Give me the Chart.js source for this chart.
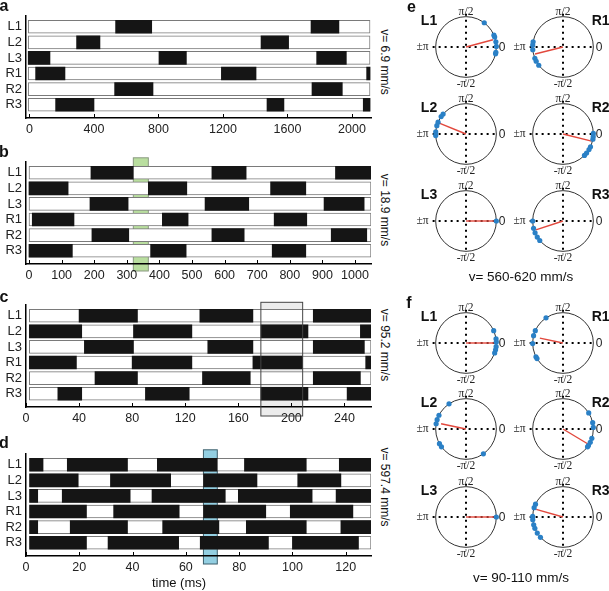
<!DOCTYPE html>
<html>
<head>
<meta charset="utf-8">
<script src="https://cdn.jsdelivr.net/npm/chart.js@4.4.1/dist/chart.umd.min.js"></script>
<style>
  html, body { margin: 0; padding: 0; background: #fff; }
  #fig { position: relative; width: 609px; height: 591px; overflow: hidden;
         font-family: "Liberation Sans", Arial, sans-serif; color: #111; }
  #fig canvas { position: absolute; }
  .txt { position: absolute; white-space: nowrap; line-height: 1; transform: translate(-50%, -50%); }
  .panel { font-weight: bold; font-size: 16px; }
  .vrot { font-size: 12px; transform: translate(-50%, -50%) rotate(90deg); }
  .leg { font-weight: bold; font-size: 14px; }
  .vel { font-size: 13.5px; }
  .xtitle { font-size: 13px; }
</style>
</head>
<body>
<div id="fig"></div>
<script>
// ---- gait diagrams (stance phases in black, time in ms) ----
const legs = ['L1', 'L2', 'L3', 'R1', 'R2', 'R3'];

// a: v = 6.9 mm/s
const aTicks = [0, 400, 800, 1200, 1600, 2000];
const aSpan = [-8, 2112];
const aStance = [
    [[534, 758], [1746, 1919]],
    [[292, 437], [1436, 1607]],
    [[-8, 127], [803, 973], [1781, 1965]],
    [[38, 220], [1190, 1405], [2091, 2112]],
    [[528, 766], [1752, 1940]],
    [[162, 400], [1473, 1578], [2070, 2112]]
];

// b: v = 18.9 mm/s
const bTicks = [0, 100, 200, 300, 400, 500, 600, 700, 800, 900, 1000];
const bSpan = [0, 1049];
const bStance = [
    [[190, 320], [561, 666], [940, 1049]],
    [[0, 120], [366, 484], [741, 849]],
    [[187, 304], [540, 674], [905, 1028]],
    [[10, 138], [409, 488], [752, 852]],
    [[193, 306], [561, 660], [927, 1036]],
    [[0, 133], [373, 482], [746, 849]]
];
const bWindow = [320, 366];

// c: v = 95.2 mm/s
const cTicks = [0, 40, 80, 120, 160, 200, 240];
const cSpan = [2.5, 260];
const cStance = [
    [[40, 84], [131, 171], [216.5, 260]],
    [[2.5, 42], [81, 125], [177, 212.5], [252, 260]],
    [[44, 81], [137, 171], [216.5, 255]],
    [[2.5, 38], [80, 125], [171, 208.5], [256, 260]],
    [[52, 84], [133, 169], [216.5, 252]],
    [[24, 42], [90, 123], [177, 212.5], [242, 260]]
];
const cWindow = [177, 208.5];

// d: v = 597.4 mm/s
const dTicks = [0, 20, 40, 60, 80, 100, 120];
const dSpan = [1.35, 129.5];
const dStance = [
    [[1.35, 6.4], [15.5, 38.1], [49.3, 71.8], [82, 105.2], [117.6, 129.5]],
    [[1.35, 19.6], [31.7, 54.3], [66.6, 86.7], [102, 118.2]],
    [[1.35, 4.4], [13.6, 39.1], [47.3, 74.8], [79.7, 107.4], [116.4, 129.5]],
    [[1.35, 22.7], [32.9, 57.5], [66.6, 90], [99.2, 122.7]],
    [[1.35, 4.4], [16.6, 38.1], [51.3, 72.4], [82.7, 105.2], [118.2, 129.5]],
    [[1.35, 22.7], [30.8, 57.3], [65.4, 91], [100, 124.8]]
];
const dWindow = [66.6, 71.8];

// ---- phase plots (degrees, L1 as reference) ----
// e: v = 560-620 mm/s
const eL1 = [53, 23, 19, 10, 1, -10, -13];
const eR1 = [170, 176, 185, 202, 208, 217];
const eL2 = [139, 145, 157, 164, 176, 183];
const eR2 = [1, -5, -10, -25, -31, -39, -45];
const eL3 = [0];
const eR3 = [180, 194, 203, 212, 220];
// mean vectors [angle, length], order L1 R1 L2 R2 L3 R3
const eMean = [[15, 0.92], [194, 0.95], [158, 0.95], [-14, 0.97], [0, 1], [198, 0.94]];

// f: v = 90-110 mm/s
const fL1 = [24, 8, 2, -7, -13, -19];
const fR1 = [124, 156, 166, 181, 207, 211];
const fL2 = [124, 153, 162, 170, 209, 216, 305];
const fR2 = [32, 12, 3, -18, -26, -33, -36];
const fL3 = [0];
const fR3 = [155, 162, 179, 185, 195, 202, 212, 222];
const fMean = [[0, 0.93], [168, 0.78], [168, 0.84], [-31, 0.96], [0, 1], [164, 0.92]];

const fig = document.getElementById('fig');
const FONT = '"Liberation Sans", Arial, sans-serif';

function addCanvas(box) {
    const c = document.createElement('canvas');
    c.width = box.width;
    c.height = box.height;
    c.style.left = box.left + 'px';
    c.style.top = box.top + 'px';
    fig.appendChild(c);
    return c;
}

function addText(text, x, y, cls) {
    const d = document.createElement('div');
    d.className = 'txt ' + cls;
    d.textContent = text;
    d.style.left = x + 'px';
    d.style.top = y + 'px';
    fig.appendChild(d);
}

// shaded time window: fill behind everything, outline behind or over the bars
function windowRect(chart, opts) {
    const { chartArea, scales: { x } } = chart;
    const x0 = x.getPixelForValue(opts.range[0]);
    const x1 = x.getPixelForValue(opts.range[1]);
    return [x0, chartArea.top - opts.above, x1 - x0, chartArea.bottom - chartArea.top + opts.above + opts.below];
}

const windowPlugin = {
    id: 'timeWindow',
    beforeDraw(chart, args, opts) {
        if (!opts.range) return;
        const ctx = chart.ctx;
        const [x, y, w, h] = windowRect(chart, opts);
        ctx.save();
        ctx.fillStyle = opts.fill;
        ctx.fillRect(x, y, w, h);
        if (!opts.outlineOnTop) {
            ctx.strokeStyle = opts.stroke;
            ctx.lineWidth = 1;
            ctx.strokeRect(x, y, w, h);
        }
        ctx.restore();
    },
    afterDatasetsDraw(chart, args, opts) {
        if (!opts.range || !opts.outlineOnTop) return;
        const ctx = chart.ctx;
        const [x, y, w, h] = windowRect(chart, opts);
        ctx.save();
        ctx.strokeStyle = opts.stroke;
        ctx.lineWidth = 1;
        ctx.strokeRect(x, y, w, h);
        ctx.restore();
    }
};

// small inward tick marks on the time axis
const innerTicks = {
    id: 'innerTicks',
    afterDraw(chart) {
        const { ctx, chartArea, scales: { x } } = chart;
        ctx.save();
        ctx.strokeStyle = '#000';
        ctx.lineWidth = 1;
        x.ticks.forEach(t => {
            const px = Math.round(x.getPixelForValue(t.value)) + 0.5;
            ctx.beginPath();
            ctx.moveTo(px, chartArea.bottom);
            ctx.lineTo(px, chartArea.bottom - 4);
            ctx.stroke();
        });
        ctx.restore();
    }
};

function gaitChart(top, xMin, xMax, ticks, span, stance, win) {
    const canvas = addCanvas({ left: 0, top: top - 6, width: 378, height: 6 + 108.5 + 22 });
    new Chart(canvas, {
        type: 'bar',
        data: {
            datasets: [{
                data: stance.flatMap((segs, i) => segs.map(s => ({ y: i, x: s }))),
                backgroundColor: '#151515',
                borderWidth: 0
            }, {
                data: legs.map((l, i) => ({ y: i, x: span })),
                backgroundColor: '#fff',
                borderColor: '#7a7a7a',
                borderWidth: 1,
                borderSkipped: false
            }]
        },
        options: {
            responsive: false,
            animation: false,
            indexAxis: 'y',
            layout: { padding: { top: 6, right: 7, left: 0, bottom: 0 } },
            datasets: { bar: { grouped: false, barThickness: 13 } },
            plugins: {
                legend: { display: false },
                tooltip: { enabled: false },
                timeWindow: win || {}
            },
            scales: {
                x: {
                    type: 'linear', min: xMin, max: xMax,
                    afterBuildTicks: s => { s.ticks = ticks.map(v => ({ value: v })); },
                    afterFit: s => { s.height = 22; },
                    grid: { display: false, drawTicks: false },
                    border: { color: '#000', width: 1.5 },
                    ticks: {
                        callback: v => String(v),
                        color: '#222', font: { family: FONT, size: 12.5 }, padding: 4, maxRotation: 0, autoSkip: false
                    }
                },
                y: {
                    type: 'linear', reverse: true, offset: false, min: -0.7, max: 5.85,
                    afterBuildTicks: s => { s.ticks = legs.map((l, i) => ({ value: i })); },
                    afterFit: s => { s.width = 26; },
                    grid: { display: false, drawTicks: false },
                    border: { color: '#000', width: 1.5 },
                    ticks: { callback: v => legs[v], color: '#222', font: { family: FONT, size: 13 }, padding: 4, autoSkip: false }
                }
            }
        },
        plugins: [windowPlugin, innerTicks]
    });
}

// polar frame: circle, dotted axes and phase labels
const R = 60 / 32.5;
const phaseFrame = {
    id: 'phaseFrame',
    beforeDatasetsDraw(chart) {
        const { ctx, scales: { x, y } } = chart;
        const cx = x.getPixelForValue(0), cy = y.getPixelForValue(0);
        const r = x.getPixelForValue(1) - cx;
        ctx.save();
        ctx.strokeStyle = '#333';
        ctx.lineWidth = 1;
        ctx.beginPath();
        ctx.arc(cx, cy, r, 0, 2 * Math.PI);
        ctx.stroke();

        ctx.strokeStyle = '#000';
        ctx.lineWidth = 2;
        ctx.setLineDash([2, 4]);
        ctx.beginPath();
        ctx.moveTo(cx - r * 1.1, cy); ctx.lineTo(cx + r * 1.02, cy);
        ctx.moveTo(cx, cy - r * 1.1); ctx.lineTo(cx, cy + r * 1.1);
        ctx.stroke();
        ctx.setLineDash([]);

        ctx.fillStyle = '#222';
        ctx.textBaseline = 'middle';
        ctx.textAlign = 'center';
        ctx.font = '11.5px "Liberation Serif", "Times New Roman", serif';
        ctx.fillText('\u03c0/2', cx, cy - r - 5);
        ctx.fillText('-\u03c0/2', cx, cy + r + 6.5);
        ctx.textAlign = 'right';
        ctx.fillText('\u00b1\u03c0', cx - r - 7, cy);
        ctx.textAlign = 'left';
        ctx.font = '12px ' + FONT;
        ctx.fillText('0', cx + r + 2.5, cy + 0.5);
        ctx.restore();
    }
};

const toXY = (deg, len) => ({ x: len * Math.cos(deg * Math.PI / 180), y: len * Math.sin(deg * Math.PI / 180) });

function phaseChart(cx, cy, angles, mean) {
    const canvas = addCanvas({ left: cx - 60, top: cy - 60, width: 120, height: 120 });
    new Chart(canvas, {
        type: 'scatter',
        data: {
            datasets: [{
                data: angles.map(a => toXY(a, 1)),
                pointRadius: 2.6,
                pointBackgroundColor: '#2a80c6',
                pointBorderWidth: 0
            }, {
                data: [{ x: 0, y: 0 }, toXY(mean[0], mean[1])],
                showLine: true,
                borderColor: '#e2483d',
                borderWidth: 1.4,
                pointRadius: 0
            }]
        },
        options: {
            responsive: false,
            animation: false,
            layout: { padding: 0 },
            plugins: { legend: { display: false }, tooltip: { enabled: false } },
            scales: {
                x: { display: false, min: -R, max: R },
                y: { display: false, min: -R, max: R }
            }
        },
        plugins: [phaseFrame]
    });
}

// ---- left column ----
gaitChart(10, -21.7, 2118, aTicks, aSpan, aStance);
gaitChart(155.7, -9.2, 1049, bTicks, bSpan, bStance,
    { range: bWindow, fill: '#b9de9f', stroke: '#8a9a80', above: 4, below: 7 });
gaitChart(299.2, 0, 260, cTicks, cSpan, cStance,
    { range: cWindow, fill: '#ececec', stroke: '#444', above: 2.5, below: 9, outlineOnTop: true });
gaitChart(448, 0, 129.5, dTicks, dSpan, dStance,
    { range: dWindow, fill: '#93cfe2', stroke: '#3d5f6c', above: 4, below: 8 });

addText('a', 4, 5.7, 'panel');
addText('b', 4, 152, 'panel');
addText('c', 4, 297, 'panel');
addText('d', 4, 443, 'panel');
addText('time (ms)', 179, 582, 'xtitle');

addText('v= 6.9 mm/s', 385, 62, 'vrot');
addText('v= 18.9 mm/s', 385, 210, 'vrot');
addText('v= 95.2 mm/s', 385, 345, 'vrot');
addText('v= 597.4 mm/s', 385, 487, 'vrot');

// ---- right column ----
const colL = 466, colR = 562.7;
const eRows = [47.3, 134, 220.7];
const fRows = [342.7, 429.3, 516.7];

[[eL1, eR1], [eL2, eR2], [eL3, eR3]].forEach((pair, i) => {
    phaseChart(colL, eRows[i], pair[0], eMean[2 * i]);
    phaseChart(colR, eRows[i], pair[1], eMean[2 * i + 1]);
    addText('L' + (i + 1), colL - 37, eRows[i] - 27, 'leg');
    addText('R' + (i + 1), colR + 38, eRows[i] - 27, 'leg');
});
[[fL1, fR1], [fL2, fR2], [fL3, fR3]].forEach((pair, i) => {
    phaseChart(colL, fRows[i], pair[0], fMean[2 * i]);
    phaseChart(colR, fRows[i], pair[1], fMean[2 * i + 1]);
    addText('L' + (i + 1), colL - 37, fRows[i] - 27, 'leg');
    addText('R' + (i + 1), colR + 38, fRows[i] - 27, 'leg');
});

addText('e', 411.5, 7, 'panel');
addText('f', 409, 303, 'panel');
addText('v= 560-620 mm/s', 521, 277, 'vel');
addText('v= 90-110 mm/s', 521, 578, 'vel');
</script>
</body>
</html>
